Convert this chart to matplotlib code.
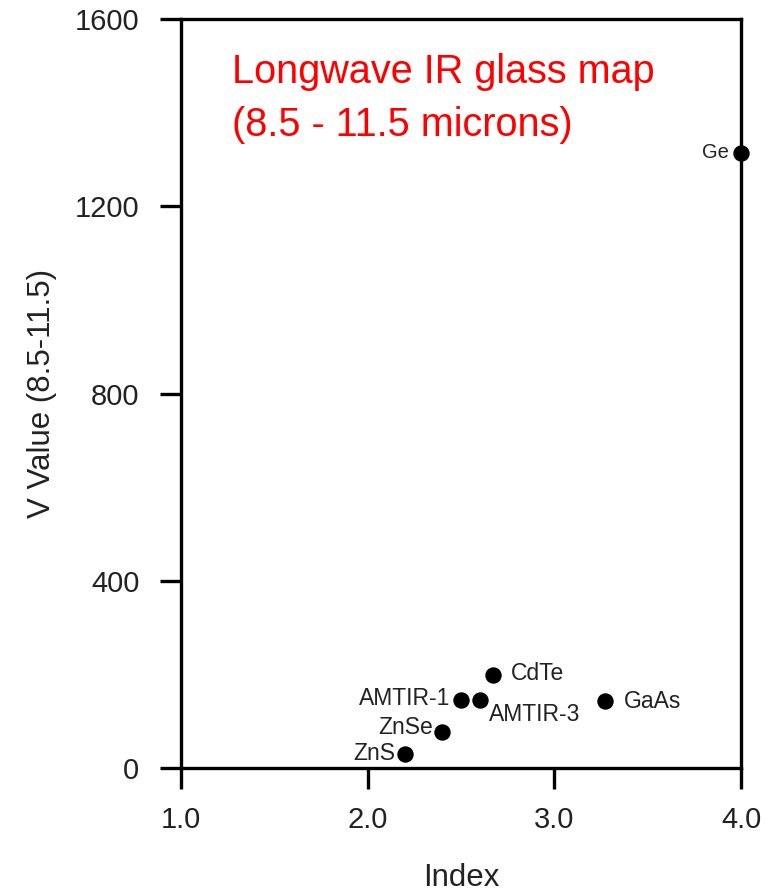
import matplotlib.pyplot as plt

plt.rcParams['font.family'] = ['Liberation Sans', 'DejaVu Sans']

# glass data
glasses = ["Ge", "CdTe", "AMTIR-1", "AMTIR-3", "GaAs", "ZnSe", "ZnS"]
index = [4.0, 2.67, 2.50, 2.60, 3.27, 2.40, 2.20]
v_value = [1314, 199, 146, 146, 143, 77, 29]

x_ticks = [1.0, 2.0, 3.0, 4.0]
x_tick_labels = ["1.0", "2.0", "3.0", "4.0"]
y_ticks = [0, 400, 800, 1200, 1600]

# label placement: (dx, dy) in points, alignment, size
label_style = {
    "Ge": ((-9, 0), "right", 14.5),
    "CdTe": ((13, 1), "left", 16.5),
    "AMTIR-1": ((-8, 1), "right", 16.5),
    "AMTIR-3": ((7, -11), "left", 16.5),
    "GaAs": ((14, 0), "left", 16.5),
    "ZnSe": ((-7, 3), "right", 16.5),
    "ZnS": ((-7, 1), "right", 16.5),
}

fig = plt.figure(figsize=(7.71, 8.92), dpi=100)
ax = fig.add_axes([0.2348, 0.139, 0.7264, 0.8397])

ax.plot(index, v_value, 'o', color='black', markersize=10.8, clip_on=False, zorder=5)

for name, x, y in zip(glasses, index, v_value):
    (dx, dy), ha, size = label_style[name]
    ax.annotate(name, (x, y), xytext=(dx, dy), textcoords='offset points',
                ha=ha, va='center', fontsize=size, color='#222222')

ax.set_xlim(1.0, 4.0)
ax.set_ylim(0, 1600)
ax.set_xticks(x_ticks)
ax.set_xticklabels(x_tick_labels)
ax.set_yticks(y_ticks)

for s in ax.spines.values():
    s.set_linewidth(2.4)
    s.set_color('black')
ax.tick_params(direction='out', length=15, width=2.4, labelsize=21, colors='black',
               labelcolor='#222222')
ax.tick_params(axis='x', pad=12)
ax.tick_params(axis='y', pad=15)

ax.set_xlabel("Index", fontsize=22.5, color='#222222')
ax.set_ylabel("V Value (8.5-11.5)", fontsize=22.5, color='#222222')
ax.xaxis.set_label_coords(0.5, -0.127)
ax.yaxis.set_label_coords(-0.221, 0.5)

ax.text(0.091, 0.9146, "Longwave IR glass map", transform=ax.transAxes,
        color='#ff0000', fontsize=28.5, va='baseline', ha='left')
ax.text(0.091, 0.8435, "(8.5 - 11.5 microns)", transform=ax.transAxes,
        color='#ff0000', fontsize=28.5, va='baseline', ha='left')

plt.savefig("out.png", dpi=100)
